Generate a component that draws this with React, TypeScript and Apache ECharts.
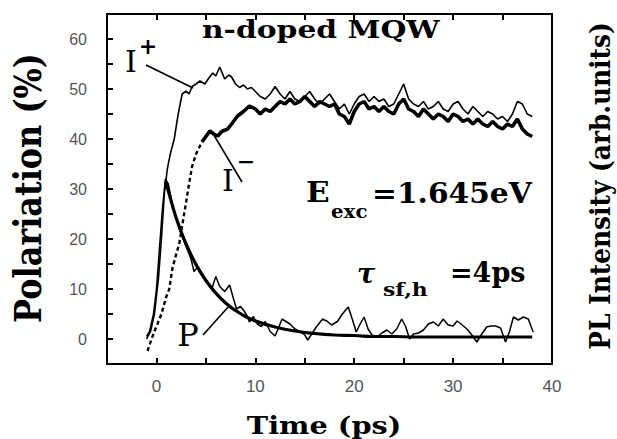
import React, { useEffect, useRef } from "react";
import * as echarts from "echarts";

// Time axis (ps) and polarisation / intensity values
const iPlus: [number, number][] = [
  [-1.0, 0], [-0.6, 1.5], [-0.2, 5], [0.2, 12], [0.5, 20], [0.8, 29], [1.1, 34], [1.4, 37],
  [1.8, 40], [2.2, 45], [2.6, 49], [3.0, 49.6], [3.3, 49], [3.6, 50.5], [4.0, 51], [4.4, 51.6],
  [4.9, 51], [5.3, 52.2], [5.7, 53.2], [6.0, 52.6], [6.4, 54.4], [6.9, 52], [7.3, 52.8], [7.6, 52.4],
  [8.0, 51], [8.4, 50.3], [8.8, 50.8], [9.2, 50], [9.6, 50.3], [10, 49.5], [10.5, 48.5], [11, 48],
  [11.5, 49], [12, 50.5], [12.5, 49], [13, 48], [13.5, 49.5], [14, 48], [14.5, 47.5], [15, 48.5],
  [15.5, 49.5], [16, 48], [16.5, 47], [17, 48], [17.5, 49], [18, 47.5], [18.5, 46], [19, 47],
  [19.5, 45], [20, 47], [20.5, 48.5], [21, 49], [21.5, 47.5], [22, 48.5], [22.5, 47.5], [23, 48],
  [23.5, 46.5], [24, 47], [24.5, 49], [25, 51], [25.5, 48], [26, 47], [26.5, 46.5], [27, 47.5],
  [27.5, 46], [28, 46.5], [28.5, 47.5], [29, 46], [29.5, 45.5], [30, 47], [30.5, 47.5], [31, 46],
  [31.5, 45], [32, 46.5], [32.5, 45.5], [33, 44.5], [33.5, 45.5], [34, 45], [34.5, 44], [35, 44.5],
  [35.5, 43.5], [36, 45], [36.5, 47.5], [37, 47], [37.5, 45], [38, 44.5],
];

const iMinusRise: [number, number][] = [
  [-0.9, -2.4], [-0.5, 0], [0, 2.5], [0.5, 5], [1.0, 8.5], [1.3, 10], [1.6, 14], [2.0, 17],
  [2.3, 19], [2.8, 25], [3.3, 31], [3.6, 34.5], [4.0, 37], [4.6, 39.4],
];

const iMinus: [number, number][] = [
  [4.6, 39.4], [5.0, 40.5], [5.4, 41.6], [5.8, 41], [6.2, 40.6], [6.6, 41.5], [7.2, 42], [7.6, 43],
  [8.2, 44.6], [8.8, 45.5], [9.4, 46.6], [10, 46], [10.5, 45], [11, 46], [11.5, 45.5], [12, 46.5],
  [12.5, 47.5], [13, 47], [13.5, 48], [14, 47], [14.5, 47.5], [15, 48.5], [15.5, 47.5], [16, 46.5],
  [16.5, 47.5], [17, 47], [17.5, 46.5], [18, 47], [18.5, 45], [19, 44.5], [19.5, 43], [20, 45.5],
  [20.5, 47], [21, 47.5], [21.5, 46], [22, 46.5], [22.5, 45.5], [23, 46.5], [23.5, 45.5], [24, 45],
  [24.5, 47], [25, 48], [25.5, 46], [26, 45.5], [26.5, 44.5], [27, 46], [27.5, 45], [28, 44],
  [28.5, 45], [29, 44.5], [29.5, 43.5], [30, 45], [30.5, 44.5], [31, 43.5], [31.5, 44], [32, 43],
  [32.5, 44], [33, 43], [33.5, 42.5], [34, 43.5], [34.5, 42.5], [35, 42], [35.5, 43], [36, 42.5],
  [36.5, 44], [37, 42], [37.5, 41], [38, 40.5],
];

const polarization: [number, number][] = [
  [-1, 0.5], [-0.7, 1.5], [-0.3, 5], [0, 10], [0.3, 18], [0.6, 26], [0.9, 32], [1.2, 31],
  [1.6, 27], [2, 24], [2.5, 21], [3, 18.5], [3.5, 16], [3.8, 13.5], [4.2, 14.5], [4.8, 12.5],
  [5.3, 11], [5.6, 10], [6.0, 12.5], [6.4, 10.5], [6.9, 9.5], [7.4, 10.8], [7.8, 8], [8.1, 6],
  [8.5, 6.5], [8.9, 5.5], [9.2, 4.5], [9.4, 3.4], [9.8, 4.5], [10.2, 3], [10.6, 2.5], [11, 3.5],
  [11.5, 1.5], [12, 0.6], [12.4, 2.5], [12.7, 4], [13.1, 3.5], [13.5, 3], [14, 2], [14.5, 1.5],
  [15, 0.8], [15.3, -0.2], [15.7, 1], [16.2, 2.5], [16.8, 4], [17.3, 3.5], [17.7, 2.8], [18.3, 3.5],
  [18.8, 5], [19.4, 6.4], [19.8, 4], [20.2, 1.4], [20.6, 3], [21, 4.4], [21.4, 2], [21.8, 0.8],
  [22.3, 0.4], [22.8, 1.2], [23.3, 1.8], [23.8, 1], [24.3, 2], [24.8, 4], [25.2, 2.5], [25.6, 0],
  [26, 1], [26.5, 1.2], [27, 1.8], [27.5, 3], [28, 3.4], [28.5, 2.6], [29, 4], [29.5, 2.8],
  [30, 2.6], [30.4, 3.6], [30.8, 3], [31.4, 2], [31.9, 0.8], [32.4, -0.6], [32.9, 1], [33.4, 2.4],
  [33.8, 2.6], [34.3, 2.6], [34.8, 2.2], [35.3, -0.6], [35.7, 1.5], [36.1, 4.4], [36.6, 3.8],
  [37.1, 4.4], [37.6, 4], [38.1, 1.4],
];

const polarizationFit: [number, number][] = [
  [0.9, 31.5], [1, 31], [2, 24.2], [3, 19], [4, 14.9], [5, 11.7], [6, 9.2], [7, 7.2], [8, 5.7],
  [9, 4.5], [10, 3.6], [12, 2.4], [14, 1.6], [16, 1.1], [18, 0.8], [20, 0.7], [22, 0.5],
  [24, 0.5], [26, 0.4], [28, 0.4], [30, 0.4], [32, 0.4], [34, 0.4], [36, 0.4], [38, 0.4],
];

const xTickLabels = [0, 10, 20, 30, 40];
const yTickLabels = [0, 10, 20, 30, 40, 50, 60];

const SERIF = '"DejaVu Serif"';

function txt(
  text: string,
  x: number,
  y: number,
  font: string,
  align: string = "left",
  extra: any = {}
) {
  return {
    type: "text",
    x,
    y,
    z: 10,
    ...extra,
    style: {
      text,
      font,
      fill: "#000",
      textAlign: align,
      align,
      textVerticalAlign: "middle",
      verticalAlign: "middle",
    },
  };
}

function leader(x1: number, y1: number, x2: number, y2: number) {
  return {
    type: "line",
    z: 10,
    shape: { x1, y1, x2, y2 },
    style: { stroke: "#000", lineWidth: 1.6 },
  };
}

const mkLine = () => ({ show: true, onZero: false, lineStyle: { color: "black", width: 2 } });
const mkTick = () => ({ show: true, inside: true, length: 6, lineStyle: { color: "black", width: 2 } });

export default function App() {
  const ref = useRef<HTMLDivElement>(null);
  useEffect(() => {
    if (!ref.current) return;
    const chart = echarts.init(ref.current, null, { renderer: "svg" });
    const option: any = {
      animation: false,
      grid: {
        left: 107,
        right: 65,
        top: 14,
        bottom: 75,
        show: true,
        borderColor: "black",
        borderWidth: 2,
      },
      xAxis: [
        {
          type: "value",
          min: -5,
          max: 40,
          interval: 5,
          axisLine: mkLine(),
          axisTick: mkTick(),
          splitLine: { show: false },
          axisLabel: {
            margin: 14,
            fontSize: 17,
            formatter: (v: number) => (xTickLabels.indexOf(v) >= 0 ? String(v) : ""),
          },
        },
        {
          type: "value",
          position: "top",
          min: -5,
          max: 40,
          interval: 5,
          axisLine: mkLine(),
          axisTick: mkTick(),
          splitLine: { show: false },
          axisLabel: { show: false },
        },
      ],
      yAxis: [
        {
          type: "value",
          min: -5,
          max: 65,
          interval: 5,
          axisLine: mkLine(),
          axisTick: mkTick(),
          splitLine: { show: false },
          axisLabel: {
            margin: 20,
            fontSize: 16,
            formatter: (v: number) => (yTickLabels.indexOf(v) >= 0 ? String(v) : ""),
          },
        },
      ],
      series: [
        {
          name: "I+",
          type: "line",
          data: iPlus,
          showSymbol: false,
          lineStyle: { color: "#000", width: 1.6 },
        },
        {
          name: "I- rise",
          type: "line",
          data: iMinusRise,
          showSymbol: false,
          lineStyle: { color: "#000", width: 2.4, type: [4, 3] },
        },
        {
          name: "I-",
          type: "line",
          data: iMinus,
          showSymbol: false,
          lineStyle: { color: "#000", width: 3.6 },
        },
        {
          name: "P",
          type: "line",
          data: polarization,
          showSymbol: false,
          lineStyle: { color: "#000", width: 1.5 },
        },
        {
          name: "P fit",
          type: "line",
          data: polarizationFit,
          smooth: true,
          showSymbol: false,
          lineStyle: { color: "#000", width: 3.2 },
        },
      ],
      graphic: [
        txt("Polariation (%)", 27, 188, `bold 38px ${SERIF}`, "center", {
          rotation: Math.PI / 2,
          scaleX: 0.84,
        }),
        txt("PL Intensity (arb.units)", 601, 186, `bold 27px ${SERIF}`, "center", {
          rotation: Math.PI / 2,
          scaleX: 0.92,
        }),
        txt("Time (ps)", 324, 425, `bold 25px ${SERIF}`, "center", { scaleX: 1.15 }),
        txt("n-doped MQW", 202, 29, `bold 25px ${SERIF}`, "left", { scaleX: 1.19 }),
        txt("I", 131, 61, `30px ${SERIF}`, "center"),
        txt("+", 148, 46, `bold 22px ${SERIF}`, "center"),
        leader(146, 65, 193, 88),
        txt("I", 228, 180, `30px ${SERIF}`, "center"),
        txt("\u2212", 246, 161, `bold 22px ${SERIF}`, "center"),
        leader(212, 132, 242, 182),
        txt("P", 188, 335, `32px ${SERIF}`, "center"),
        leader(203, 335, 230, 305),
        txt("E", 306, 193, `bold 27px ${SERIF}`, "left", { scaleX: 1.15 }),
        txt("exc", 331, 211, `bold 18px ${SERIF}`, "left", { scaleX: 1.1 }),
        txt("=1.645eV", 372, 193, `bold 27px ${SERIF}`, "left", { scaleX: 1.1 }),
        txt("\u03c4", 357, 273, `bold italic 27px ${SERIF}`, "left"),
        txt("sf,h", 383, 290, `bold 19px ${SERIF}`, "left", { scaleX: 1.15 }),
        txt("=4ps", 450, 272, `bold 27px ${SERIF}`, "left"),
      ],
    };
    chart.setOption(option);
    return () => chart.dispose();
  }, []);
  return <div ref={ref} style={{ width: 617, height: 439, position: "absolute", left: 0, top: 0 }} />;
}
